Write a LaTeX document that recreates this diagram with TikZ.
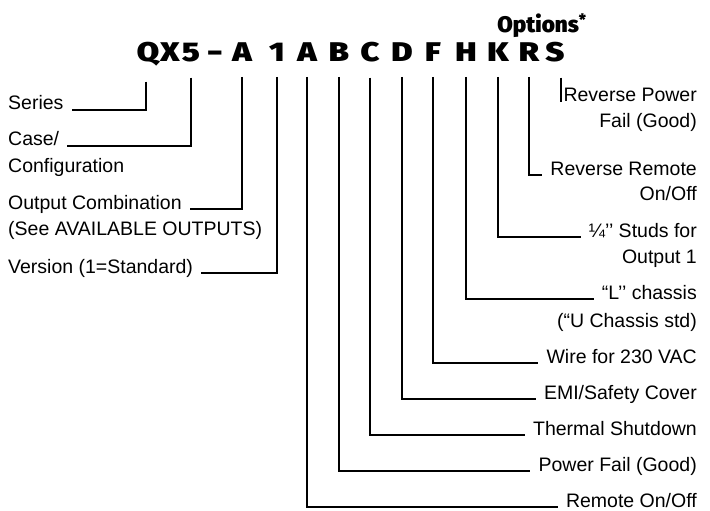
\documentclass[tikz,border=0pt]{standalone}
\usepackage{fontspec}
\setmainfont{Liberation Sans}
\newfontfamily\codefont{Fira Sans Black}
\newcommand{\wide}[1]{\scalebox{1.2}[1]{#1}}

\begin{document}
\begin{tikzpicture}[x=1pt,y=-1pt,
  code/.style={font=\codefont\fontsize{27}{30}\selectfont, anchor=base, inner sep=0pt, outer ysep=15pt},
  lbl/.style={font=\fontsize{19.5}{22}\selectfont, inner sep=0pt},
  lead/.style={line width=1.6pt, shorten >=8pt}]
\useasboundingbox (0,0) rectangle (710,511);

% the model code
\node [code, font=\codefont\fontsize{22.5}{24}\selectfont] (opt) at (542,33) {Options\textsuperscript{*}};
\node [code] (q) at (148,62) {\wide{Q}};
\node [code] (x) at (170,62) {\wide{X}};
\node [code] (five) at (191,62) {\wide{5}};
\node [code] (dash) at (215,62) {–};
\node [code] (a) at (242,62) {\wide{A}};
\node [code] (one) at (277,62) {\wide{1}};
\node [code] (aa) at (307,62) {\wide{A}};
\node [code] (b) at (339,62) {\wide{B}};
\node [code] (c) at (370,62) {\wide{C}};
\node [code] (d) at (402,62) {\wide{D}};
\node [code] (f) at (433,62) {\wide{F}};
\node [code] (h) at (466,62) {\wide{H}};
\node [code] (k) at (498,62) {\wide{K}};
\node [code] (r) at (529,62) {\wide{R}};
\node [code] (s) at (555,62) {\wide{S}};

% left side
\node [lbl, anchor=base west] (series) at (8,110) {Series};
\node [lbl, anchor=base west] (case) at (8,146) {Case/};
\node [lbl, anchor=base west] (config) at (8,172) {Configuration};
\node [lbl, anchor=base west] (output) at (8,209) {Output Combination};
\node [lbl, anchor=base west] (avail) at (8,235) {(See AVAILABLE OUTPUTS)};
\node [lbl, anchor=base west] (version) at (8,273) {Version (1=Standard)};

% right side
\node [lbl, anchor=base east] (rpf) at (697,102) {Reverse Power};
\node [lbl, anchor=base east] (rpf2) at (697,127) {Fail (Good)};
\node [lbl, anchor=base east] (rrm) at (697,175) {Reverse Remote};
\node [lbl, anchor=base east] (rrm2) at (697,200) {On/Off};
\node [lbl, anchor=base east] (stud) at (697,237) {¼'{}' Studs for};
\node [lbl, anchor=base east] (stud2) at (697,263) {Output 1};
\node [lbl, anchor=base east] (chas) at (697,299) {“L'{}' chassis};
\node [lbl, anchor=base east] (chas2) at (697,327) {(“U Chassis std)};
\node [lbl, anchor=base east] (wire) at (697,363) {Wire for 230 VAC};
\node [lbl, anchor=base east] (emi) at (697,399) {EMI/Safety Cover};
\node [lbl, anchor=base east] (therm) at (697,435) {Thermal Shutdown};
\node [lbl, anchor=base east] (pf) at (697,471) {Power Fail (Good)};
\node [lbl, anchor=base east] (rem) at (697,507) {Remote On/Off};

\draw [lead] ([xshift=-2pt]q.south) |- (series.base east);
\draw [lead] (five.south) |- (case.base east);
\draw [lead] (a.south) |- (output.base east);
\draw [lead] (one.south) |- (version.base east);

\draw [line width=2.2pt] ([xshift=-4pt]s.south east) -- ([xshift=-4pt]s.south east |- rpf.base);
\draw [lead] (r.south) |- (rrm.base west);
\draw [lead] (k.south) |- (stud.base west);
\draw [lead] (h.south) |- (chas.base west);
\draw [lead] (f.south) |- (wire.base west);
\draw [lead] (d.south) |- (emi.base west);
\draw [lead] (c.south) |- (therm.base west);
\draw [lead] (b.south) |- (pf.base west);
\draw [lead] (aa.south) |- (rem.base west);
\end{tikzpicture}
\end{document}
